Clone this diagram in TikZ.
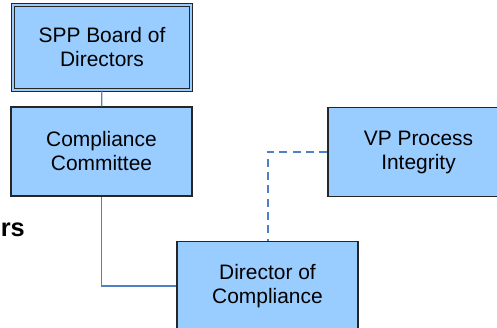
\documentclass[tikz,border=0pt]{standalone}
\usepackage{fontspec}
\setmainfont{Liberation Sans}
\usepackage{xcolor}
\usepackage{tikz}
\usetikzlibrary{positioning,calc}
\definecolor{boxblue}{HTML}{99CCFF}
\definecolor{linkblue}{HTML}{4F7FC4}

\begin{document}
\begin{tikzpicture}[x=0.75pt,y=-0.75pt,
    box/.style={draw=black!85, fill=boxblue, line width=0.8pt, minimum width=135.75pt, minimum height=66.75pt, align=center, font=\fontsize{15.7}{18}\selectfont, inner sep=0pt},
    link/.style={draw=linkblue, line width=0.8pt},
    dotlink/.style={draw=linkblue, line width=1.5pt, dash pattern=on 6pt off 4pt}]
    \useasboundingbox (0,0) rectangle (497,328);
    \clip (0,0) rectangle (497,328);

    % boxes
    \node[box, double=boxblue, double distance=1.6pt, minimum width=133pt, minimum height=64pt] (board) at (102,47.5) {SPP Board of\\Directors};
    \node[box] (committee) at (101.5,151.5) {Compliance\\Committee};
    \node[box] (vp) at (418.5,152) {VP Process\\Integrity};
    \node[box] (director) at (267.5,286) {Director of\\Compliance};

    % cropped title
    \node[anchor=base east, font=\fontsize{19}{22}\bfseries\selectfont, inner sep=0pt] (title) at (25,236) {rs};

    % Reporting lines
    \draw[link] (board) -- (committee);
    \draw[link] (committee.south) |- (director.west);
    \draw[dotlink] (vp.west) -| (director.north);
\end{tikzpicture}
\end{document}
